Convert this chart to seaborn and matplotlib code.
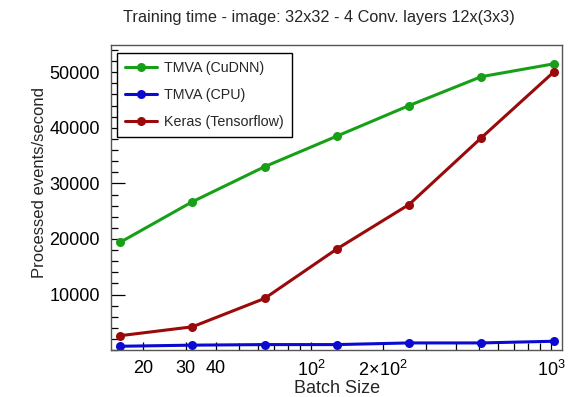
import numpy as np
import pandas as pd
import matplotlib
matplotlib.use("Agg")
import matplotlib.pyplot as plt
import matplotlib.ticker as mticker
import seaborn as sns

# Data
batch_size = [16, 32, 64, 128, 256, 512, 1024]
tmva_cudnn = [19400, 26700, 33000, 38500, 44000, 49200, 51500]
tmva_cpu = [700, 900, 1000, 1000, 1300, 1300, 1600]
keras_tf = [2600, 4200, 9300, 18200, 26200, 38200, 50000]

series_names = ["TMVA (CuDNN)", "TMVA (CPU)", "Keras (Tensorflow)"]
series_colors = ["#17a017", "#0a0ad0", "#9a0a0a"]

x_tick_vals = [20, 30, 40, 100, 200, 1000]
x_tick_labels = ["20", "30", "40", r"$10^{2}$", r"$2\!\times\!10^{2}$", r"$10^{3}$"]

# long format for seaborn
df = pd.DataFrame({
    "batch": batch_size * 3,
    "rate": tmva_cudnn + tmva_cpu + keras_tf,
    "method": [series_names[0]] * 7 + [series_names[1]] * 7 + [series_names[2]] * 7,
})

sns.set_style("ticks")
plt.rcParams["font.family"] = ["Liberation Sans", "DejaVu Sans"]
plt.rcParams["mathtext.default"] = "regular"

fig = plt.figure(figsize=(5.7, 3.97), dpi=100)
ax = fig.add_axes([0.195, 0.118, 0.791, 0.768])

sns.lineplot(data=df, x="batch", y="rate", hue="method", hue_order=series_names,
             palette=series_colors, marker="o", markersize=6.5, markeredgewidth=0,
             linewidth=2.2, ax=ax)

ax.set_xscale("log")
ax.set_xlim(14.68, 1111)
ax.set_ylim(0, 54850)

ax.xaxis.set_major_locator(mticker.FixedLocator(x_tick_vals))
ax.xaxis.set_major_formatter(mticker.FixedFormatter(x_tick_labels))
ax.xaxis.set_minor_locator(mticker.LogLocator(base=10, subs=np.arange(2, 10)))
ax.xaxis.set_minor_formatter(mticker.NullFormatter())
ax.yaxis.set_major_locator(mticker.FixedLocator([10000, 20000, 30000, 40000, 50000]))
ax.yaxis.set_minor_locator(mticker.MultipleLocator(2000))

ax.tick_params(which="both", direction="in", top=False, right=False, labelsize=13, colors="black")
ax.tick_params(which="major", length=10, width=0.9)
ax.tick_params(which="minor", length=5, width=0.9)
ax.tick_params(axis="y", which="major", pad=8)
ax.tick_params(axis="x", which="major", length=6, pad=7)
for s in ax.spines.values():
    s.set_color("#555555")
    s.set_linewidth(1.0)

ax.set_xlabel("Batch Size", fontsize=13)
ax.set_ylabel("Processed events/second", fontsize=12)
ax.yaxis.set_label_coords(-0.142, 0.55)
ax.xaxis.set_label_coords(0.5, -0.098)

leg = ax.legend(loc="upper left", bbox_to_anchor=(0.0133, 0.974), borderaxespad=0,
                fontsize=10.3, frameon=True, fancybox=False, edgecolor="black",
                framealpha=1, handlelength=2.24, handletextpad=0.5,
                borderpad=0.55, labelspacing=0.92)
leg.get_frame().set_linewidth(1.0)

fig.text(0.56, 0.957, "Training time - image: 32x32 - 4 Conv. layers 12x(3x3)",
         ha="center", va="center", fontsize=11.7)

fig.savefig("out.png", dpi=100)
